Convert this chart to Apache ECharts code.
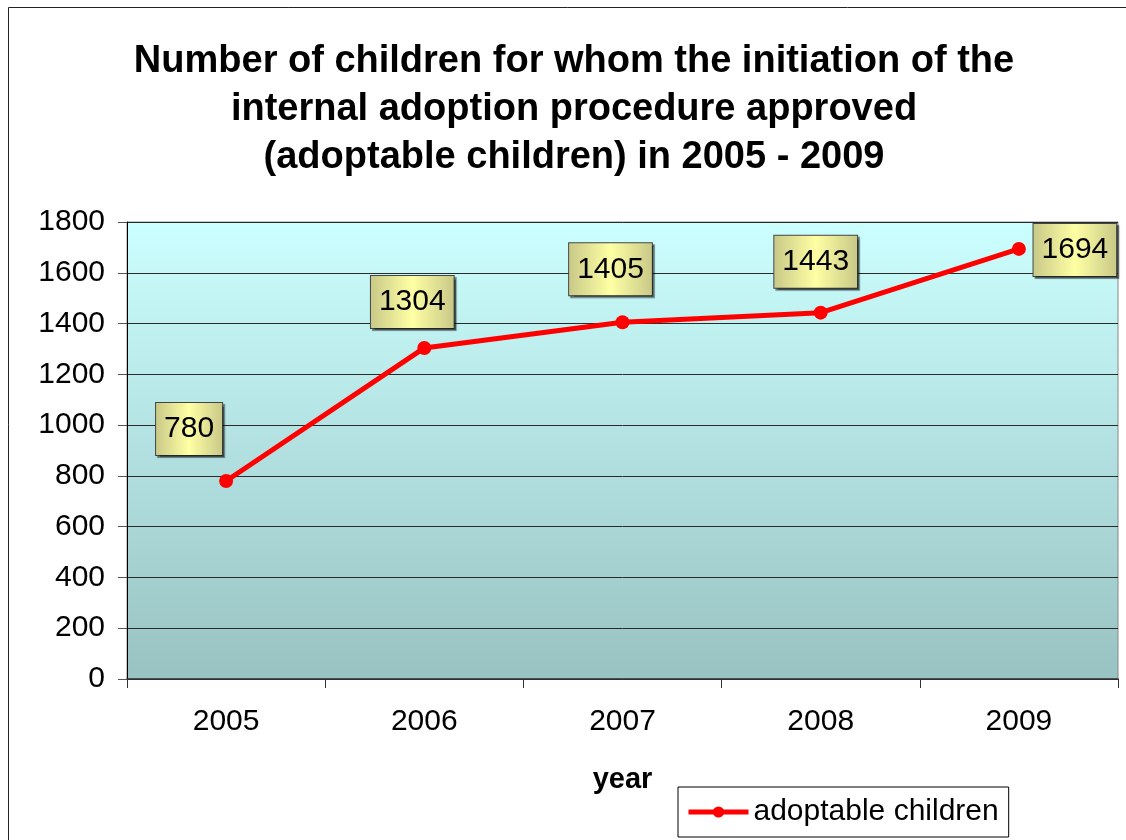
<!DOCTYPE html>
<html>
<head>
<meta charset="utf-8">
<script src="https://cdn.jsdelivr.net/npm/echarts@6/dist/echarts.min.js"></script>
<style>
  html, body { margin: 0; padding: 0; background: #fff; }
  #main { width: 1126px; height: 840px; }
</style>
</head>
<body>
<div id="main"></div>
<script>
// data
const years = ['2005', '2006', '2007', '2008', '2009']
const adoptable = [780, 1304, 1405, 1443, 1694]
// where each value box sits relative to its point
const labelOffsets = [[-37, -52], [-12, -46], [-12, -53], [-5, -51], [56, 1]]

const chart = echarts.init(document.getElementById('main'))

const boxFill = new echarts.graphic.LinearGradient(0, 0, 1, 0, [
  { offset: 0, color: '#c8c888' },
  { offset: 0.5, color: '#ffffa4' },
  { offset: 1, color: '#c8c888' }
])

const seriesData = adoptable.map((v, i) => {
  return {
    value: v,
    label: { offset: labelOffsets[i] }
  }
})

const option = {
  backgroundColor: '#fff',
  animation: false,
  textStyle: { fontFamily: 'Liberation Sans, Arial, sans-serif' },
  graphic: [
    {
      type: 'rect',
      shape: { x: 8.5, y: 7.5, width: 1300, height: 1000 },
      style: { fill: 'none', stroke: '#222', lineWidth: 1 },
      silent: true
    }
  ],
  title: {
    text: 'Number of children for whom the initiation of the\ninternal adoption procedure approved\n(adoptable children) in 2005 - 2009',
    left: 574,
    textAlign: 'center',
    top: 38,
    padding: 0,
    textStyle: {
      fontSize: 38,
      fontWeight: 'bold',
      color: '#000',
      lineHeight: 48,
      fontFamily: 'Liberation Sans, Arial, sans-serif'
    }
  },
  legend: {
    left: 678,
    top: 787,
    orient: 'horizontal',
    borderColor: '#000',
    borderWidth: 1,
    padding: [10, 10, 10, 8],
    itemWidth: 60,
    itemHeight: 14,
    itemGap: 6,
    lineStyle: { width: 5 },
    textStyle: { fontSize: 30, color: '#000' },
    data: ['adoptable children']
  },
  grid: {
    left: 127,
    right: 8,
    top: 222,
    bottom: 161,
    show: true,
    borderColor: '#888',
    borderWidth: 1,
    backgroundColor: new echarts.graphic.LinearGradient(0, 0, 0, 1, [
      { offset: 0, color: '#ccffff' },
      { offset: 1, color: '#99c2c2' }
    ])
  },
  xAxis: {
    type: 'category',
    data: years,
    boundaryGap: true,
    name: 'year',
    nameLocation: 'middle',
    nameGap: 86,
    nameTextStyle: { fontSize: 29, fontWeight: 'bold', color: '#000' },
    axisLine: { lineStyle: { color: '#333', width: 1.5 } },
    axisTick: { show: true, length: 9, inside: false, lineStyle: { color: '#333' } },
    axisLabel: { fontSize: 30, color: '#000', margin: 28 }
  },
  yAxis: {
    type: 'value',
    min: 0,
    max: 1800,
    interval: 200,
    axisLine: { show: true, lineStyle: { color: '#000', width: 1 } },
    axisTick: { show: true, length: 9, lineStyle: { color: '#555' } },
    axisLabel: { fontSize: 30, color: '#000', margin: 22, formatter: v => String(v) },
    splitLine: { show: true, lineStyle: { color: '#2a2a2a', width: 1 } }
  },
  series: [
    {
      name: 'adoptable children',
      type: 'line',
      data: seriesData,
      symbol: 'circle',
      symbolSize: 14,
      lineStyle: { color: '#ff0000', width: 5 },
      itemStyle: { color: '#ff0000' },
      label: {
        show: true,
        position: 'inside',
        fontSize: 30,
        color: '#000',
        backgroundColor: boxFill,
        borderColor: '#444',
        borderWidth: 1,
        padding: [11, 8, 11, 8],
        shadowColor: 'rgba(0,0,0,0.45)',
        shadowOffsetX: 2,
        shadowOffsetY: 2,
        shadowBlur: 1
      }
    }
  ]
}

chart.setOption(option)
</script>
</body>
</html>
